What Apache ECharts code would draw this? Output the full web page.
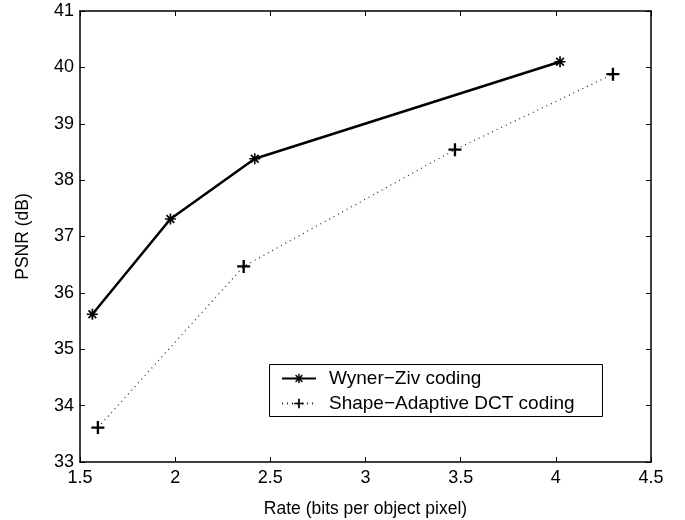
<!DOCTYPE html>
<html>
<head>
<meta charset="utf-8">
<script src="https://cdn.jsdelivr.net/npm/echarts@6/dist/echarts.min.js"></script>
<style>html,body{margin:0;padding:0;background:#fff}#c{width:685px;height:520px}</style>
</head>
<body>
<div id="c"></div>
<script>
const wzRate = [1.565, 1.975, 2.418, 4.022];
const wzPsnr = [35.62, 37.31, 38.38, 40.10];
const saRate = [1.594, 2.36, 3.47, 4.30];
const saPsnr = [33.61, 36.47, 38.54, 39.88];
const seriesNames = ['Wyner\u2212Ziv coding', 'Shape\u2212Adaptive DCT coding'];
const xTicks = [1.5, 2, 2.5, 3, 3.5, 4, 4.5];
const yTicks = [33, 34, 35, 36, 37, 38, 39, 40, 41];

const FONT = 'Liberation Sans, Arial, Helvetica, sans-serif';
const chart = echarts.init(document.getElementById('c'), null, {renderer: 'canvas'});

const starPath = 'path://M-1.5,-10L1.5,-10L1.5,-3.6L6,-8.1L8.1,-6L3.6,-1.5L10,-1.5L10,1.5L3.6,1.5L8.1,6L6,8.1L1.5,3.6L1.5,10L-1.5,10L-1.5,3.6L-6,8.1L-8.1,6L-3.6,1.5L-10,1.5L-10,-1.5L-3.6,-1.5L-8.1,-6L-6,-8.1L-1.5,-3.6Z';
const plusPath = 'path://M-1.8,-10L1.8,-10L1.8,-1.8L10,-1.8L10,1.8L1.8,1.8L1.8,10L-1.8,10L-1.8,1.8L-10,1.8L-10,-1.8L-1.8,-1.8Z';

const axisCommon = {
  axisLine: {show: true, onZero: false, lineStyle: {color: '#000', width: 1.5}},
  axisTick: {show: true, inside: true, length: 5, lineStyle: {color: '#000', width: 1}},
  splitLine: {show: false}
};

chart.setOption({
  animation: false,
  backgroundColor: '#fff',
  grid: {left: 80, top: 11, right: 34, bottom: 58, containLabel: false, outerBoundsMode: 'none'},
  xAxis: [
    Object.assign({
      type: 'value', min: xTicks[0], max: xTicks[xTicks.length - 1], interval: 0.5,
      position: 'bottom',
      name: 'Rate (bits per object pixel)', nameLocation: 'middle', nameGap: 38,
      nameTextStyle: {fontFamily: FONT, fontSize: 17.5, color: '#000'},
      axisLabel: {fontFamily: FONT, fontSize: 18, color: '#000', margin: 7,
        formatter: v => String(v)}
    }, axisCommon),
    Object.assign({
      type: 'value', min: xTicks[0], max: xTicks[xTicks.length - 1], interval: 0.5,
      position: 'top', axisLabel: {show: false}
    }, axisCommon)
  ],
  yAxis: [
    Object.assign({
      type: 'value', min: yTicks[0], max: yTicks[yTicks.length - 1], interval: 1,
      position: 'left',
      name: 'PSNR (dB)', nameLocation: 'middle', nameGap: 48, nameRotate: 90,
      nameTextStyle: {fontFamily: FONT, fontSize: 17.5, color: '#000'},
      axisLabel: {fontFamily: FONT, fontSize: 18, color: '#000', margin: 6}
    }, axisCommon),
    Object.assign({
      type: 'value', min: yTicks[0], max: yTicks[yTicks.length - 1], interval: 1,
      position: 'right', axisLabel: {show: false}
    }, axisCommon)
  ],
  graphic: [{
    type: 'rect', left: 269, top: 364, z: 10,
    shape: {width: 333, height: 52},
    style: {fill: '#fff', stroke: '#000', lineWidth: 1}
  }],
  legend: {
    orient: 'vertical', left: 276, top: 364, z: 20,
    itemWidth: 34, itemHeight: 12, itemGap: 6,
    textStyle: {fontFamily: FONT, fontSize: 19, color: '#000', padding: [0, 0, 0, 8]},
    data: seriesNames.map(n => ({name: n}))
  },
  series: [
    {
      name: seriesNames[0], type: 'line',
      data: wzRate.map((r, i) => [r, wzPsnr[i]]),
      symbol: starPath, symbolSize: 11, showSymbol: true,
      lineStyle: {color: '#000', width: 2.5},
      itemStyle: {color: '#000'}
    },
    {
      name: seriesNames[1], type: 'line',
      data: saRate.map((r, i) => [r, saPsnr[i]]),
      symbol: plusPath, symbolSize: 13, showSymbol: true,
      lineStyle: {color: '#222', width: 1.2, type: [1, 4]},
      itemStyle: {color: '#000'}
    }
  ]
});
</script>
</body>
</html>
